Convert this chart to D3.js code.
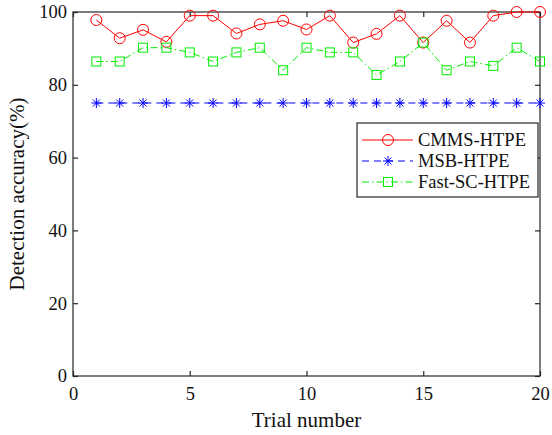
<!DOCTYPE html>
<html>
<head>
<meta charset="utf-8">
<script src="https://cdn.jsdelivr.net/npm/d3@7"></script>
<style>
  html, body { margin: 0; padding: 0; background: #fff; }
  svg { display: block; }
</style>
</head>
<body>
<div id="chart"></div>
<script>
// trial numbers and detection accuracy (%) per method
const trials = d3.range(1, 21);
const cmms = [97.8, 92.8, 95.1, 91.8, 99.0, 99.0, 94.1, 96.6, 97.6, 95.2,
              99.0, 91.6, 94.0, 99.0, 91.6, 97.6, 91.6, 99.0, 100, 100];
const msb = [75, 75, 75, 75, 75, 75, 75, 75, 75, 75,
             75, 75, 75, 75, 75, 75, 75, 75, 75, 75];
const fastsc = [86.4, 86.4, 90.2, 90.2, 88.9, 86.4, 88.9, 90.2, 84.0, 90.2,
                88.9, 88.9, 82.7, 86.4, 91.6, 84.0, 86.4, 85.2, 90.2, 86.4];
const xTicks = [0, 5, 10, 15, 20];
const yTicks = [0, 20, 40, 60, 80, 100];
const seriesNames = ["CMMS-HTPE", "MSB-HTPE", "Fast-SC-HTPE"];

const W = 552, H = 435;
const M = { l: 73, r: 12, t: 12, b: 59 };
const FONT = "'Liberation Serif', 'Times New Roman', serif";

const svg = d3.select("#chart").append("svg")
  .attr("width", W).attr("height", H)
  .style("font-family", FONT);

const x = d3.scaleLinear().domain([0, 20]).range([M.l, W - M.r]);
const y = d3.scaleLinear().domain([0, 100]).range([H - M.b, M.t]);

const series = [
  { name: seriesNames[0], values: cmms, color: "#ff0000", dash: null, marker: "circle" },
  { name: seriesNames[1], values: msb, color: "#0000ff", dash: "7,5", marker: "star" },
  { name: seriesNames[2], values: fastsc, color: "#00ee00", dash: "7,3,1.5,3", marker: "square" },
];

// frame
svg.append("rect")
  .attr("x", x(0)).attr("y", y(100))
  .attr("width", x(20) - x(0)).attr("height", y(0) - y(100))
  .attr("fill", "none").attr("stroke", "#262626").attr("stroke-width", 1.2);

// ticks (inward, both sides like MATLAB)
const tl = 5;
const gx = svg.append("g").attr("transform", `translate(0,${y(0)})`)
  .call(d3.axisBottom(x).tickValues(xTicks).tickSize(-tl).tickPadding(11).tickFormat(d3.format("d")));
const gy = svg.append("g").attr("transform", `translate(${x(0)},0)`)
  .call(d3.axisLeft(y).tickValues(yTicks).tickSize(-tl).tickPadding(6).tickFormat(d3.format("d")));
[gx, gy].forEach(g => {
  g.select(".domain").remove();
  g.selectAll(".tick line").attr("stroke", "#262626").attr("stroke-width", 1.2);
  g.selectAll(".tick text").attr("fill", "#111").style("font-family", FONT).style("font-size", "18.5px");
});
// top & right mirror ticks
svg.append("g").attr("transform", `translate(0,${y(100)})`)
  .call(d3.axisTop(x).tickValues(xTicks).tickSize(-tl).tickFormat(""))
  .call(g => g.select(".domain").remove())
  .call(g => g.selectAll(".tick line").attr("stroke", "#262626").attr("stroke-width", 1.2));
svg.append("g").attr("transform", `translate(${x(20)},0)`)
  .call(d3.axisRight(y).tickValues(yTicks).tickSize(-tl).tickFormat(""))
  .call(g => g.select(".domain").remove())
  .call(g => g.selectAll(".tick line").attr("stroke", "#262626").attr("stroke-width", 1.2));

// axis labels
svg.append("text")
  .attr("x", (x(0) + x(20)) / 2).attr("y", H - 8)
  .attr("text-anchor", "middle").attr("fill", "#111")
  .style("font-size", "21px").text("Trial number");
svg.append("text")
  .attr("transform", `translate(24,${(y(0) + y(100)) / 2}) rotate(-90)`)
  .attr("text-anchor", "middle").attr("fill", "#111")
  .style("font-size", "21px").text("Detection accuracy(%)");

function drawMarker(g, type, color) {
  if (type === "circle") {
    g.append("circle").attr("r", 5.5).attr("fill", "none").attr("stroke", color).attr("stroke-width", 1);
  } else if (type === "square") {
    g.append("rect").attr("x", -4.5).attr("y", -4.5).attr("width", 9).attr("height", 9)
      .attr("fill", "none").attr("stroke", color).attr("stroke-width", 1);
  } else {
    const r = 5;
    [[-r, 0, r, 0], [0, -r, 0, r], [-3.5, -3.5, 3.5, 3.5], [-3.5, 3.5, 3.5, -3.5]].forEach(d => {
      g.append("line").attr("x1", d[0]).attr("y1", d[1]).attr("x2", d[2]).attr("y2", d[3])
        .attr("stroke", color).attr("stroke-width", 1);
    });
  }
}

const line = d3.line().x((d, i) => x(trials[i])).y(d => y(d));

series.forEach(s => {
  svg.append("path")
    .attr("d", line(s.values))
    .attr("fill", "none").attr("stroke", s.color).attr("stroke-width", 1)
    .attr("stroke-dasharray", s.dash);
  s.values.forEach((v, i) => {
    const g = svg.append("g").attr("transform", `translate(${x(trials[i])},${y(v)})`);
    drawMarker(g, s.marker, s.color);
  });
});

// legend
const lg = svg.append("g").attr("transform", "translate(357,123)");
lg.append("rect").attr("x", 0).attr("y", 0).attr("width", 181).attr("height", 74)
  .attr("fill", "#fff").attr("stroke", "#262626").attr("stroke-width", 1.2);
series.forEach((s, i) => {
  const cy = 17 + i * 21;
  lg.append("line").attr("x1", 5).attr("x2", 56).attr("y1", cy).attr("y2", cy)
    .attr("stroke", s.color).attr("stroke-width", 1).attr("stroke-dasharray", s.dash);
  drawMarker(lg.append("g").attr("transform", `translate(31,${cy})`), s.marker, s.color);
  lg.append("text").attr("x", 61).attr("y", cy + 6)
    .attr("fill", "#111").style("font-size", "18.5px").text(s.name);
});
</script>
</body>
</html>
